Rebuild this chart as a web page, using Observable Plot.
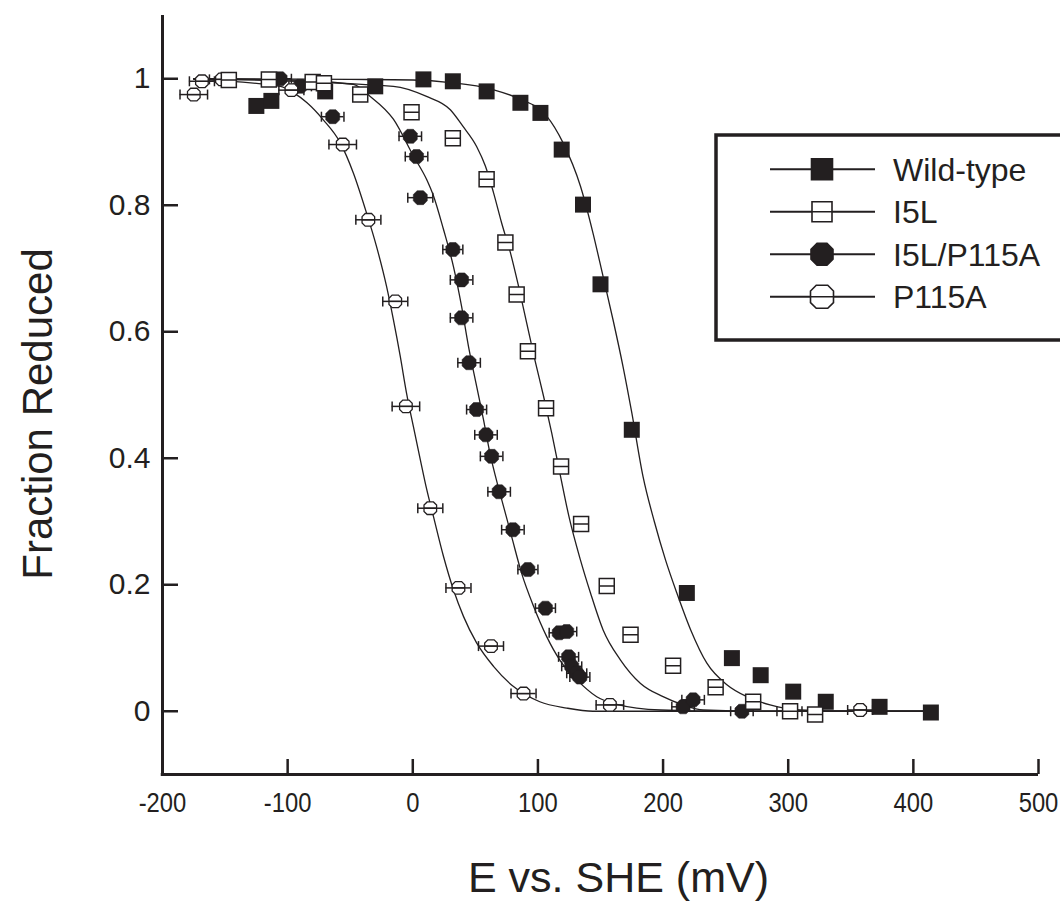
<!DOCTYPE html>
<html><head><meta charset="utf-8">
<script src="https://cdn.jsdelivr.net/npm/d3@7"></script>
<script src="https://cdn.jsdelivr.net/npm/@observablehq/plot@0.6"></script>
<style>
html,body{margin:0;padding:0;background:#fff;overflow:hidden;}
#chart{position:relative;width:1060px;height:918px;}
</style></head><body><div id="chart"></div>
<script>
// ---------- data ----------
const xTicks = [-200, -100, 0, 100, 200, 300, 400, 500];
const yTicks = [0, 0.2, 0.4, 0.6, 0.8, 1];
const seriesNames = ["Wild-type", "I5L", "I5L/P115A", "P115A"];

// [E (mV), fraction reduced]
const wildType = [[-125,0.957],[-113,0.965],[-70,0.980],[-30,0.988],[8.5,0.999],[32,0.996],[59,0.980],[86,0.962],[102,0.946],[119,0.888],[136,0.801],[150,0.675],[175,0.445],[219,0.187],[255,0.084],[278,0.057],[304,0.031],[330,0.015],[373,0.007],[414,-0.002]];
const i5l = [[-147,0.998],[-115,0.999],[-80,0.995],[-71,0.993],[-42,0.975],[-1,0.947],[32,0.906],[59,0.841],[74,0.741],[83,0.659],[92,0.569],[106.5,0.479],[118.5,0.387],[134.5,0.296],[155,0.198],[174,0.121],[208,0.072],[242,0.038],[272,0.015],[301.5,0.0],[321.5,-0.005]];
// [E, fraction, horizontal error (mV)]
const i5lP115a = [[-106,1.0,9],[-90,0.988,9],[-64,0.940,9],[-2,0.909,9],[3,0.877,9],[6,0.812,10],[32,0.730,8],[39,0.682,9],[39,0.622,9],[45,0.551,9],[51,0.477,8],[58.5,0.437,9],[63,0.403,9],[69,0.347,9],[80,0.287,9],[92,0.224,8],[106,0.163,8],[117,0.124,8],[123,0.126,8],[124.5,0.086,8],[127,0.071,8],[131,0.060,8],[133.5,0.054,8],[216,0.007,9],[224,0.018,9],[263,0.0,9]];
const p115a = [[-175,0.975,11],[-168.5,0.996,10],[-152.5,0.999,10],[-97,0.982,10],[-56,0.896,11],[-35.5,0.777,10],[-14,0.648,10],[-5.5,0.482,11],[14,0.321,10],[36.5,0.195,10],[62.5,0.103,10],[88.5,0.028,10],[157.5,0.010,11],[301,0.0,10],[357.5,0.002,10]];

// fitted curves, points
const wtCurve = [[-175,1.0],[-50,0.999],[0,0.998],[30,0.994],[64,0.983],[83,0.970],[107,0.941],[120,0.899],[134,0.830],[144,0.756],[152,0.688],[160,0.619],[168,0.545],[175,0.472],[184,0.371],[193,0.300],[202,0.239],[211,0.187],[222,0.129],[235,0.076],[251,0.042],[267,0.023],[285.5,0.010],[309.5,0.002],[350,0.0],[415,0.0]];
const i5lCurve = [[-175,1.0],[-15.5,0.988],[11,0.972],[30,0.951],[40,0.925],[51,0.893],[58,0.862],[64.5,0.820],[71,0.772],[78,0.725],[84.5,0.672],[91,0.614],[97.5,0.556],[104.5,0.498],[111,0.440],[117.5,0.377],[125,0.306],[134,0.239],[142,0.187],[152,0.129],[166,0.081],[182,0.044],[200,0.023],[216,0.010],[232,0.002],[280,0.0],[415,0.0]];
const i5lP115aCurve = [[-175,1.0],[-100,0.998],[-47.5,0.991],[-34,0.972],[-15.5,0.936],[0.5,0.878],[11,0.841],[16.5,0.815],[24.5,0.762],[32.5,0.703],[39,0.640],[44.5,0.577],[51,0.514],[56.5,0.461],[62,0.405],[66,0.372],[72.5,0.324],[79,0.276],[87,0.218],[96.5,0.166],[107,0.118],[117.5,0.081],[131,0.050],[147,0.023],[163,0.011],[198,0.002],[250,0.0],[415,0.0]];
const p115aCurve = [[-175,0.999],[-106,0.988],[-95.5,0.978],[-84.5,0.962],[-71.5,0.935],[-58,0.899],[-47.5,0.851],[-37,0.788],[-29,0.735],[-21,0.672],[-15.5,0.619],[-10,0.561],[-5,0.503],[0.5,0.450],[6,0.398],[11,0.352],[16.5,0.308],[24.5,0.245],[32.5,0.192],[40.5,0.150],[51,0.108],[64.5,0.071],[80.5,0.039],[101.5,0.015],[123,0.005],[144,0.0],[415,0.0]];

// ---------- styling ----------
const ink = "#231f20";
const font = "'Liberation Sans', Arial, Helvetica, sans-serif";
const rad = size => Math.sqrt(size / Math.PI);
const squareSym = {draw(c, s){const r = rad(s); c.moveTo(-r,-r); c.lineTo(r,-r); c.lineTo(r,r); c.lineTo(-r,r); c.closePath();}};
const squareBarSym = {draw(c, s){const r = rad(s); c.moveTo(-r,-r); c.lineTo(r,-r); c.lineTo(r,r); c.lineTo(-r,r); c.closePath(); c.moveTo(-r,0); c.lineTo(r,0);}};
const octSym = {draw(c, s){const r = rad(s), k = r*0.45; c.moveTo(-k,-r); c.lineTo(k,-r); c.lineTo(r,-k); c.lineTo(r,k); c.lineTo(k,r); c.lineTo(-k,r); c.lineTo(-r,k); c.lineTo(-r,-k); c.closePath();}};
const octBarSym = {draw(c, s){const r = rad(s), k = r*0.5; c.moveTo(-k,-r); c.lineTo(k,-r); c.lineTo(r,-k); c.lineTo(r,k); c.lineTo(k,r); c.lineTo(-k,r); c.lineTo(-r,k); c.lineTo(-r,-k); c.closePath(); c.moveTo(-r,0); c.lineTo(r,0);}};
const capSym = {draw(c, s){const r = rad(s); c.moveTo(0,-r); c.lineTo(0,r);}};

const pts = arr => arr.map(([E, f, err]) => ({E, f, err}));
const W = pts(wildType), L = pts(i5l), LP = pts(i5lP115a), P = pts(p115a);
const curves = [wtCurve, i5lCurve, i5lP115aCurve, p115aCurve];

const errMarks = (data, cap) => [
  Plot.ruleY(data, {y: "f", x1: d => d.E - d.err, x2: d => d.E + d.err, stroke: ink, strokeWidth: 1.5}),
  Plot.dot(data, {x: d => d.E - d.err, y: "f", symbol: capSym, r: cap, stroke: ink, strokeWidth: 1.5, fill: "none"}),
  Plot.dot(data, {x: d => d.E + d.err, y: "f", symbol: capSym, r: cap, stroke: ink, strokeWidth: 1.5, fill: "none"})
];

const yLen = 15 / 632, xLen = 16 / 1.2513;

const chart = Plot.plot({
  width: 1060, height: 918,
  marginLeft: 162, marginRight: 22, marginTop: 15, marginBottom: 144,
  style: {fontFamily: font, background: "white", color: ink, overflow: "visible"},
  x: {domain: [-200, 500]},
  y: {domain: [-0.1, 1.1]},
  marks: [
    ...curves.map(c => Plot.line(c, {x: d => d[0], y: d => d[1], stroke: ink, strokeWidth: 1.3, curve: "monotone-x"})),
    ...errMarks(LP, 5),
    Plot.dot(LP, {x: "E", y: "f", symbol: octSym, r: 7, fill: ink, stroke: ink, strokeWidth: 0.5}),
    Plot.dot(P, {x: "E", y: "f", symbol: octBarSym, r: 6.3, fill: "white", stroke: ink, strokeWidth: 1.3}),
    ...errMarks(P, 5),
    Plot.dot(W, {x: "E", y: "f", symbol: squareSym, r: 8, fill: ink}),
    Plot.dot(L, {x: "E", y: "f", symbol: squareBarSym, r: 7.5, fill: "white", stroke: ink, strokeWidth: 1.5}),
    // axes
    Plot.ruleX([-200], {x: d => d, y1: -0.1, y2: 1.1, stroke: ink, strokeWidth: 3}),
    Plot.ruleY([-0.1], {y: d => d, x1: -201, x2: 500, stroke: ink, strokeWidth: 3}),
    Plot.ruleX(xTicks.slice(1), {x: d => d, y1: -0.1, y2: -0.1 + yLen, stroke: ink, strokeWidth: 2.5}),
    Plot.ruleY(yTicks, {y: d => d, x1: -200, x2: -200 + xLen, stroke: ink, strokeWidth: 2.5}),
    Plot.axisX({ticks: xTicks, tickSize: 0, tickPadding: 18, fontSize: 28, tickFormat: d => String(d), label: null, fill: ink}),
    Plot.axisY({ticks: yTicks, tickSize: 0, tickPadding: 12, fontSize: 30, tickFormat: d => String(d), label: null, fill: ink}),
    Plot.text(["E vs. SHE (mV)"], {text: d => d, frameAnchor: "bottom", textAnchor: "middle", lineAnchor: "middle", dx: 18, dy: 104, fontSize: 43, fill: ink}),
    Plot.text(["Fraction Reduced"], {text: d => d, frameAnchor: "left", textAnchor: "middle", lineAnchor: "middle", rotate: -90, dx: -124, dy: 19, fontSize: 42, fill: ink})
  ]
});

// condense x tick labels as in the figure
d3.select(chart).selectAll('g[aria-label="x-axis tick label"] text').each(function(){
  const t = this.getAttribute("transform") || "";
  this.setAttribute("transform", t + " scale(0.85,1)");
});

// legend inside the frame
const symbols = [squareSym, squareBarSym, octSym, octBarSym];
const symR = [10.5, 10, 11, 11.5];
const symFill = [ink, "white", ink, "white"];
const lg = d3.select(chart).append("g").attr("font-family", font).attr("text-anchor", "start");
lg.append("rect").attr("x", 716).attr("y", 135).attr("width", 400).attr("height", 205)
  .attr("fill", "white").attr("stroke", ink).attr("stroke-width", 3.5);
seriesNames.forEach((name, i) => {
  const y = 169.3 + i * 42.5;
  lg.append("line").attr("x1", 770).attr("x2", 875).attr("y1", y).attr("y2", y).attr("stroke", ink).attr("stroke-width", 2);
  lg.append("path").attr("transform", `translate(822,${y})`)
    .attr("d", d3.symbol(symbols[i], Math.PI * symR[i] * symR[i])())
    .attr("fill", symFill[i]).attr("stroke", ink).attr("stroke-width", 1.6);
  lg.append("text").attr("x", 893).attr("y", y).attr("dy", "0.36em").attr("text-anchor", "start")
    .attr("font-size", 32).attr("fill", ink).text(name);
});

document.getElementById("chart").appendChild(chart);
</script></body></html>
